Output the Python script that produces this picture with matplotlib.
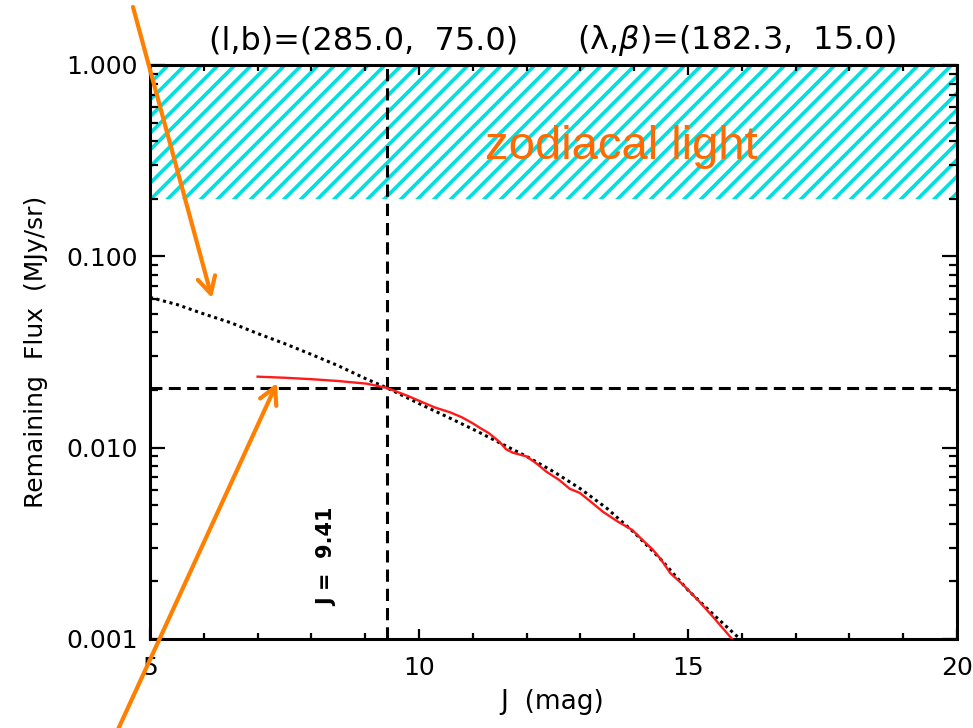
import matplotlib
matplotlib.use("Agg")
import matplotlib.pyplot as plt
from matplotlib.ticker import FixedLocator, MultipleLocator, NullFormatter, LogLocator

# --- data -------------------------------------------------------------
# smooth model of the remaining flux (dotted curve)
model_j = [5.0, 5.5, 6.0, 6.5, 7.0, 7.5, 8.0, 8.5, 9.0, 9.41, 10.0, 10.5,
           11.0, 11.5, 12.0, 12.5, 13.0, 13.5, 14.0, 14.5, 15.0, 15.5, 16.0]
model_flux = [0.061, 0.056, 0.050, 0.045, 0.0395, 0.0350, 0.0307, 0.0268,
              0.0230, 0.0205, 0.0170, 0.0146, 0.0125, 0.0106, 0.0090, 0.0075,
              0.0061, 0.0048, 0.0036, 0.0026, 0.0018, 0.00132, 0.00098]

# measured remaining flux (red curve)
meas_j = [7.0, 7.5, 8.0, 8.5, 9.03, 9.41, 9.8, 10.08, 10.3, 10.58, 10.8,
          11.0, 11.13, 11.3, 11.5, 11.62, 11.75, 12.0, 12.2, 12.37, 12.6,
          12.8, 12.99, 13.2, 13.42, 13.7, 13.96, 14.15, 14.35, 14.5, 14.67,
          14.91, 15.2, 15.47, 15.82]
meas_flux = [0.0235, 0.0232, 0.0228, 0.0223, 0.0216, 0.0205, 0.0186, 0.0172,
             0.0162, 0.0153, 0.0144, 0.0134, 0.0127, 0.0119, 0.0107, 0.0098,
             0.0094, 0.0090, 0.0082, 0.00748, 0.0068, 0.0061, 0.0058, 0.0052,
             0.00462, 0.0041, 0.00372, 0.0033, 0.00292, 0.0026, 0.00221,
             0.00192, 0.00158, 0.0013, 0.00100]

# zodiacal light band
zodi_j = [5.0, 20.0]
zodi_low = 0.2
zodi_high = 1.0

# limiting values
j_limit = 9.41
flux_limit = 0.0205

x_ticks = [5, 10, 15, 20]
x_ticklabels = ["5", "10", "15", "20"]
y_ticks = [0.001, 0.01, 0.1, 1.0]
y_ticklabels = ["0.001", "0.010", "0.100", "1.000"]

# --- figure -----------------------------------------------------------
W, H = 973, 728
plt.rcParams["hatch.linewidth"] = 2.6
plt.rcParams["font.family"] = ["DejaVu Sans"]

fig = plt.figure(figsize=(W / 100, H / 100), dpi=100)
ax = fig.add_axes([150 / W, 1 - 639 / H, (957 - 150) / W, (639 - 65) / H])
ax.set_yscale("log")
ax.set_xlim(5, 20)
ax.set_ylim(0.001, 1.0)

cyan = "#00E0E0"
ax.fill_between(zodi_j, zodi_low, zodi_high, facecolor="none",
                edgecolor=cyan, hatch="//", linewidth=0, zorder=1)

ax.plot(model_j, model_flux, color="black", lw=2.2,
        linestyle=(0, (1, 1.2)), zorder=3)
ax.plot(meas_j, meas_flux, color="#FF1A1A", lw=1.7, zorder=4)

ax.axhline(flux_limit, color="black", lw=2.2, linestyle=(0, (3.9, 2.1)), zorder=2)
ax.axvline(j_limit, color="black", lw=2.2, linestyle=(0, (4.0, 2.3)), zorder=2)

ax.text(8.29, 0.00269, "J =  9.41", rotation=90, ha="center", va="center",
        fontsize=15, fontweight="bold")

# axes styling
for s in ax.spines.values():
    s.set_linewidth(2.2)
ax.xaxis.set_major_locator(FixedLocator(x_ticks))
ax.set_xticklabels(x_ticklabels)
ax.xaxis.set_minor_locator(MultipleLocator(1))
ax.yaxis.set_major_locator(FixedLocator(y_ticks))
ax.set_yticklabels(y_ticklabels)
ax.yaxis.set_minor_locator(LogLocator(base=10, subs=range(2, 10)))
ax.yaxis.set_minor_formatter(NullFormatter())
ax.tick_params(axis="both", which="both", direction="in", top=True, right=True,
               width=1.6, labelsize=18)
ax.tick_params(axis="x", which="major", length=7.5, pad=12)
ax.tick_params(axis="x", which="minor", length=4.5)
ax.tick_params(axis="y", which="major", length=11, pad=9)
ax.tick_params(axis="y", which="minor", length=5.5)

# labels
fig.text(36 / W, 1 - 352 / H, "Remaining  Flux  (MJy/sr)", rotation=90,
         ha="center", va="center", fontsize=18)
fig.text(552 / W, 1 - 702 / H, "J  (mag)", ha="center", va="center", fontsize=19)
fig.text(364 / W, 1 - 41 / H, "(l,b)=(285.0,  75.0)", ha="center", va="center",
         fontsize=23)
fig.text(736 / W, 1 - 41 / H, "(λ,$\\beta$)=(182.3,  15.0)", ha="center",
         va="center", fontsize=23)
fig.text(485 / W, 1 - 159 / H, "zodiacal light", ha="left", va="baseline",
         fontsize=34, color="#FF6A00", family="Liberation Sans")

# pointer arrows
orange = "#FF7F00"
for tail, tip in [((133, H - 7), (212, H - 298)),
                  ((115, -8), (277, H - 383))]:
    ax.annotate("", xy=tip, xytext=tail, xycoords="figure pixels",
                textcoords="figure pixels", annotation_clip=False,
                arrowprops=dict(arrowstyle="->,head_length=0.6,head_width=0.32",
                                mutation_scale=20, color=orange, lw=3,
                                shrinkA=0, shrinkB=0), zorder=10)

fig.savefig("out.png", dpi=100)
